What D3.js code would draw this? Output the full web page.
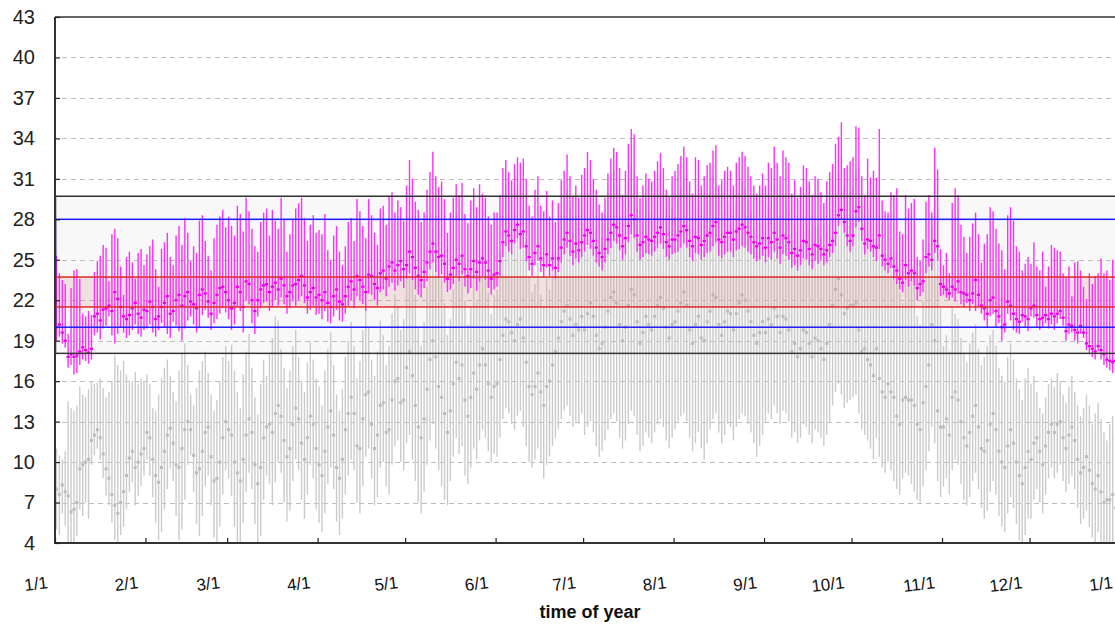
<!DOCTYPE html>
<html>
<head>
<meta charset="utf-8">
<script src="https://cdn.jsdelivr.net/npm/d3@7"></script>
<style>
  body { margin: 0; background: #ffffff; }
  svg { display: block; font-family: "Liberation Sans", Arial, sans-serif; }
</style>
</head>
<body>
<svg id="chart" width="1115" height="626"></svg>
<script>
// ---------------- DATA ----------------
const monthLabels = ["1/1","2/1","3/1","4/1","5/1","6/1","7/1","8/1","9/1","10/1","11/1","12/1","1/1"];
const yTickValues = [4,7,10,13,16,19,22,25,28,31,34,37,40,43];
const xAxisTitle = "time of year";

// comfort bands (lower, upper)
const outerBand = [18.06, 29.71];
const middleBand = [20, 28];
const innerBand = [21.5, 23.72];

// indoor (magenta) daily max / min / mean, one array per month
const indoorMax = [
 [25.3,24.0,23.5,23.2,19.5,22.9,24.2,24.3,23.6,21.0,20.8,21.2,20.9,24.1,24.9,25.3,26.1,25.9,23.4,26.9,27.3,26.6,24.5,22.4,25.2,25.6,24.8,23.6,25.5,25.8,24.6],
 [25.4,26.0,26.5,24.3,23.0,25.8,26.3,27.0,25.2,24.6,26.8,27.5,26.1,28.1,27.0,24.9,26.0,25.5,27.9,28.3,26.4,25.3,24.2,26.6,27.6,28.2,28.7,27.4],
 [28.2,27.5,26.8,29.0,28.4,27.1,29.6,28.6,27.3,26.0,25.6,27.8,28.5,28.8,26.8,28.7,27.9,27.3,29.6,28.0,25.6,26.9,28.0,28.8,29.2,29.6,28.1,26.4,27.6,28.3,27.0],
 [27.2,26.9,28.4,25.7,25.0,26.8,27.5,25.6,24.6,26.0,27.8,28.1,26.4,29.5,28.6,27.5,26.6,29.5,28.3,27.0,26.1,28.8,29.0,27.6,29.7,30.0,28.5,29.4,28.9,27.9],
 [30.5,32.4,31.0,29.3,28.7,27.8,28.5,30.2,31.5,33.0,31.2,30.4,30.8,29.5,27.0,28.5,29.6,30.6,29.8,30.7,28.4,27.7,29.4,30.3,28.9,30.6,29.9,29.6,28.2,27.6,28.5],
 [28.5,29.8,31.8,32.4,31.5,30.9,32.1,32.6,32.2,32.5,31.0,29.0,28.2,30.2,31.2,29.0,28.6,30.1,28.2,29.4,27.8,29.2,30.9,31.6,32.8,31.2,29.7,30.5,29.6,31.3],
 [31.8,33.0,32.4,31.0,30.2,29.1,28.5,29.6,31.4,32.5,33.3,33.0,31.8,29.8,31.6,33.6,34.7,34.3,31.2,29.6,30.5,31.4,31.0,30.8,31.6,32.3,32.9,31.8,30.2,29.7,31.2],
 [31.6,32.1,32.7,33.4,32.6,30.8,29.9,32.6,32.4,30.5,31.2,32.0,32.2,33.1,33.5,30.5,30.9,31.6,31.9,31.6,30.5,32.2,32.6,33.0,32.7,31.9,31.2,30.5,29.9,30.5,31.4],
 [30.5,32.2,31.8,33.4,32.2,31.2,33.1,32.6,32.2,29.9,30.9,29.6,30.4,32.0,31.8,30.8,29.8,31.2,31.0,30.0,29.2,30.8,31.5,32.1,33.6,34.1,35.2,31.8,32.0,32.3],
 [32.6,34.9,34.8,31.2,29.8,32.5,31.1,31.6,31.1,34.7,29.4,28.6,28.5,30.0,29.8,30.3,27.1,26.9,29.8,28.8,29.2,29.5,25.2,24.9,26.5,29.3,29.8,28.5,33.3,31.7,25.8],
 [24.6,25.5,24.0,29.2,30.3,29.8,27.6,26.7,25.5,26.7,27.7,28.5,26.9,24.8,26.2,26.9,28.9,28.6,27.3,26.2,25.7,24.3,28.3,28.9,27.9,26.0,25.6,24.2,24.7,25.2],
 [24.7,26.3,24.5,24.2,25.6,23.0,24.5,26.1,25.9,25.7,25.6,24.0,23.7,24.5,22.3,24.8,24.9,24.2,23.0,22.1,24.0,23.2,23.8,24.0,25.1,24.0,24.2,23.5,25.0,24.4,23.8]
];
const indoorMin = [
 [19.0,19.3,18.8,18.5,17.0,17.2,16.5,16.6,17.2,17.6,17.5,17.3,17.6,19.4,19.6,19.1,19.9,20.1,20.8,19.4,18.8,19.5,20.0,19.6,19.2,19.4,19.8,20.2,19.5,19.3,19.8],
 [19.9,20.2,19.6,19.3,19.8,20.3,20.0,19.5,19.2,20.4,20.1,19.7,19.0,19.9,20.5,20.8,20.2,19.6,20.0,20.9,21.3,20.7,19.8,20.3,20.6,21.0,21.4,21.1],
 [20.6,19.8,20.2,21.5,21.2,19.6,22.0,21.7,20.3,19.5,20.8,21.4,21.8,21.9,21.2,21.5,22.0,21.6,22.2,21.7,21.0,21.4,21.9,21.6,22.0,22.3,21.8,21.0,21.3,21.6,20.9],
 [21.0,20.6,21.2,20.4,20.3,20.8,21.3,20.5,20.4,21.0,21.6,22.0,21.4,22.3,22.0,21.7,21.2,22.5,22.4,22.0,21.6,22.6,22.8,22.3,23.0,23.3,22.7,23.1,23.4,22.9],
 [23.6,24.0,23.5,22.8,22.4,22.2,22.9,23.4,24.3,24.8,24.1,23.7,23.9,23.3,22.6,22.8,23.2,23.8,23.4,23.9,23.0,22.5,22.9,23.6,22.7,23.4,23.8,23.5,22.9,22.4,22.8],
 [23.0,23.8,25.2,26.0,25.6,25.4,26.2,26.6,25.8,25.9,24.9,24.2,23.8,24.6,24.9,24.1,23.7,24.4,23.8,24.2,23.6,24.1,24.8,25.4,25.9,25.3,24.6,25.1,24.8,25.2],
 [25.6,26.1,25.8,25.3,24.8,24.5,24.2,24.8,25.4,25.9,26.4,26.2,25.7,25.0,25.4,26.3,26.9,26.6,25.6,25.0,25.2,25.5,25.4,25.3,25.6,25.9,26.2,25.8,25.2,25.0,25.4],
 [25.5,25.6,25.9,26.2,25.9,25.2,24.9,25.5,25.4,25.0,25.2,25.5,25.6,26.0,26.3,25.3,25.1,25.4,25.6,25.6,25.2,25.7,25.8,26.0,25.9,25.6,25.4,25.1,24.9,25.0,25.3],
 [24.8,25.2,25.0,25.6,25.1,24.7,25.4,25.3,25.0,24.4,24.6,24.2,24.6,25.1,25.0,24.6,24.3,24.9,24.7,25.0,24.6,24.8,25.2,25.5,26.0,27.5,28.0,27.0,26.0,25.6],
 [26.0,27.4,27.8,26.4,25.4,25.8,25.6,25.2,24.9,25.8,24.5,24.2,24.0,24.4,23.6,23.2,22.8,22.6,23.5,23.0,23.4,23.1,22.0,22.3,22.6,24.0,24.5,24.2,25.5,25.0,22.3],
 [22.4,22.2,22.0,22.2,21.9,22.5,21.7,21.5,21.8,21.2,21.7,21.2,21.5,21.0,20.5,20.0,20.8,21.0,20.0,20.3,19.0,19.6,21.0,20.5,19.8,19.6,19.5,20.4,20.0,19.7],
 [20.8,20.7,20.0,19.8,20.0,20.3,19.9,20.2,19.8,20.3,20.6,20.1,19.0,19.5,19.6,19.0,18.8,19.5,19.2,18.3,18.0,17.8,17.6,18.2,17.6,17.2,17.0,16.8,16.6,16.9,17.4]
];
const indoorMean = [
 [20.0,20.2,19.6,19.0,17.8,18.0,17.8,17.9,18.2,18.5,18.3,18.1,18.4,20.8,21.0,20.5,21.3,21.4,21.6,21.2,22.6,22.1,21.5,20.8,20.6,20.9,21.4,21.8,21.0,20.7,21.3],
 [21.2,21.9,21.5,20.6,20.8,21.5,21.8,22.3,21.0,21.2,22.0,22.4,21.6,22.3,22.6,21.9,21.7,21.4,22.4,22.8,22.5,21.9,21.0,21.8,22.4,22.9,23.0,22.6],
 [22.0,21.4,21.8,23.0,22.6,21.5,23.4,23.2,22.0,21.2,22.0,22.8,23.1,23.2,22.6,23.0,23.3,22.8,23.6,23.1,22.3,22.6,23.1,23.2,23.5,23.8,23.1,22.2,22.6,22.9,22.2],
 [22.4,22.0,22.6,21.8,21.5,22.3,22.8,21.9,21.7,22.3,23.0,23.4,22.8,23.8,23.5,23.0,22.6,23.9,23.8,23.2,22.9,24.0,24.2,23.6,24.5,24.8,24.2,24.6,24.9,24.3],
 [24.6,25.6,25.2,24.4,23.8,23.5,24.1,24.8,25.6,26.2,25.6,25.2,25.3,24.7,23.6,23.9,24.4,25.0,24.7,25.3,24.3,23.8,24.3,24.9,24.1,24.8,25.1,24.8,24.2,23.6,23.9],
 [24.0,24.9,26.3,27.1,26.8,26.4,27.2,27.6,26.9,27.1,26.0,25.2,24.7,25.5,26.0,25.1,24.6,25.4,24.6,25.1,24.4,25.1,25.9,26.5,27.0,26.4,25.6,26.2,25.7,26.3],
 [26.8,27.2,27.0,26.4,25.9,25.5,25.2,25.8,26.5,27.0,27.6,27.4,26.8,26.0,26.6,27.5,28.3,28.0,26.8,26.1,26.3,26.7,26.5,26.4,26.7,27.0,27.4,26.9,26.3,26.0,26.5],
 [26.5,26.8,27.1,27.5,27.2,26.4,26.0,26.7,26.6,26.1,26.4,26.8,27.0,27.5,27.8,26.5,26.3,26.7,27.0,27.0,26.5,27.1,27.3,27.6,27.4,27.0,26.7,26.3,26.0,26.2,26.6],
 [25.9,26.6,26.3,27.0,26.5,25.9,26.8,26.6,26.3,25.5,25.8,25.3,25.7,26.4,26.3,25.8,25.4,26.1,26.0,25.8,25.4,25.7,26.1,26.4,27.0,28.3,28.7,27.8,26.8,26.4],
 [26.8,28.6,28.9,27.3,26.2,26.5,26.4,26.0,25.9,26.8,25.3,25.0,24.7,25.1,24.5,24.2,23.6,23.3,24.6,24.0,24.2,24.0,22.9,23.2,23.4,25.2,25.4,25.0,26.4,26.0,23.2],
 [23.0,22.8,22.5,23.0,22.8,23.4,22.6,22.5,22.4,22.0,22.5,23.5,22.4,21.6,21.4,21.0,22.0,22.2,21.2,20.8,20.0,20.2,21.9,21.6,21.0,20.6,20.4,20.9,20.8,20.6],
 [21.4,21.6,20.9,20.6,20.7,20.9,20.6,21.0,20.8,21.0,21.2,20.7,19.7,20.2,20.1,19.8,19.6,20.1,19.6,18.8,18.6,18.4,18.2,18.6,18.3,18.0,17.6,17.5,17.4,17.5,18.0]
];

// outdoor (grey) daily max / min / mean, one array per month
const outdoorMax = [
 [11.0,10.5,10.2,10.8,14.5,14.0,13.8,14.2,15.6,15.0,14.8,15.4,16.0,15.8,15.9,16.2,15.5,14.8,15.2,16.0,17.9,17.2,16.8,17.5,16.5,15.9,16.0,16.7,15.8,16.2,16.0],
 [16.5,15.8,14.0,13.8,15.0,16.2,17.0,17.6,16.4,15.2,14.5,16.8,18.0,18.8,17.2,15.0,14.2,15.5,16.8,17.5,18.2,16.6,15.0,13.8,14.6,16.0,17.8,18.6],
 [17.5,18.7,16.8,15.2,14.0,16.5,18.2,19.5,17.0,14.8,13.5,15.8,17.6,16.4,18.0,19.2,20.8,20.5,18.4,17.0,15.5,16.8,18.6,19.8,17.8,16.0,15.2,17.4,18.9,17.6,16.2],
 [15.6,14.2,16.8,18.4,19.6,17.2,15.0,13.8,15.4,17.8,19.0,20.4,18.6,16.2,17.5,19.8,21.2,20.0,17.6,16.4,18.2,20.5,19.4,17.2,18.6,21.0,22.4,21.6,19.8,20.6],
 [24.5,26.8,25.2,22.4,20.0,18.6,20.4,23.0,25.6,27.4,26.2,24.0,23.6,21.8,19.4,20.6,22.8,24.6,23.4,25.2,22.0,20.2,21.6,23.8,22.0,24.4,25.8,24.2,22.6,21.0,22.4],
 [22.8,25.6,28.2,30.5,30.9,29.4,28.6,30.2,30.8,29.0,26.4,23.8,22.6,23.2,24.8,22.4,21.6,23.6,22.8,24.2,25.6,26.8,28.4,29.6,30.2,28.8,27.0,28.2,27.4,29.0],
 [27.6,29.4,30.6,29.0,27.2,25.8,26.6,28.4,30.2,31.2,31.6,30.4,28.2,26.8,28.6,30.8,32.0,31.6,28.8,26.4,27.8,29.6,28.6,28.0,29.8,30.6,31.4,30.2,28.4,27.2,28.8],
 [28.2,29.6,30.4,31.0,29.8,27.4,26.2,28.8,29.4,27.6,28.4,29.8,30.2,31.2,30.6,27.8,27.0,28.6,29.4,29.0,27.6,29.2,30.0,30.8,30.4,29.4,28.6,27.4,26.8,27.6,28.4],
 [27.8,29.2,28.6,30.4,29.6,28.2,29.8,29.4,28.6,26.4,27.2,26.0,26.8,28.4,28.0,27.2,26.2,27.6,27.4,26.8,26.0,27.2,28.2,29.4,30.6,31.6,32.6,30.4,29.8,30.0],
 [30.4,31.6,31.8,29.2,27.4,28.8,27.6,27.0,26.4,29.6,25.8,24.6,24.2,25.4,25.0,25.6,22.6,21.8,24.4,23.6,23.8,24.6,20.8,20.2,22.0,24.6,26.2,27.4,31.0,29.0,21.4],
 [18.6,19.4,18.2,21.4,21.0,20.6,19.2,18.0,17.4,18.8,19.6,20.2,18.4,17.2,17.8,18.6,19.4,19.8,18.6,17.0,16.4,16.0,17.8,18.8,17.6,16.2,15.4,14.6,16.2,17.0],
 [15.8,16.4,15.2,14.0,13.6,14.8,15.8,16.2,15.6,16.6,16.0,15.0,14.4,15.6,16.4,15.2,14.2,13.4,14.0,15.0,14.2,12.8,13.6,14.4,13.2,12.2,11.6,12.8,13.4,12.0,11.2]
];
const outdoorMin = [
 [5.0,4.6,6.2,5.3,3.5,3.2,3.8,4.5,6.5,6.0,7.0,5.8,9.8,10.5,11.0,10.2,8.8,7.5,6.8,5.5,4.2,3.8,4.6,5.2,6.5,7.8,8.5,6.8,7.5,8.2,9.0],
 [10.2,9.0,7.4,5.5,4.2,4.8,6.5,8.0,9.5,8.6,6.0,4.2,5.0,7.2,9.8,10.5,7.8,5.4,4.5,6.0,8.2,9.0,6.8,4.4,3.8,5.2,7.6,9.4],
 [8.8,7.5,5.2,4.0,3.8,5.5,7.8,9.2,8.0,5.4,3.6,4.5,7.2,9.0,8.4,6.8,8.5,10.0,9.2,7.0,5.6,6.4,8.6,10.2,9.4,7.2,5.8,7.6,9.8,8.8,6.5],
 [5.5,4.8,6.2,8.4,9.6,8.0,5.6,4.6,5.8,7.6,9.0,10.2,9.4,7.0,6.2,8.2,10.4,11.0,8.8,6.8,7.4,9.6,10.0,8.2,7.6,9.8,11.2,11.6,10.0,9.4],
 [11.4,12.0,10.2,8.6,7.0,6.2,7.8,9.8,11.6,12.8,11.0,9.4,8.2,7.2,6.8,8.6,10.4,11.8,10.6,11.2,9.0,8.4,9.6,11.0,10.2,11.6,12.4,11.8,10.8,10.0,10.6],
 [10.4,11.8,13.2,14.0,13.6,12.8,12.4,13.4,13.8,12.6,11.2,10.0,9.6,10.2,11.0,10.0,8.8,9.8,10.4,11.2,11.8,12.4,13.2,13.8,14.2,13.4,12.6,13.0,12.8,13.6],
 [12.0,12.6,13.0,12.2,11.2,10.4,10.8,11.6,12.4,13.2,13.6,13.0,11.8,11.0,11.6,12.8,13.8,13.4,12.0,10.8,11.2,12.2,11.8,11.4,12.2,12.8,13.2,12.6,11.6,11.0,11.8],
 [12.4,13.0,13.4,13.6,13.0,11.8,10.8,11.4,12.2,11.0,10.2,11.4,12.4,13.2,13.6,12.2,11.4,12.0,12.8,12.6,11.6,12.6,13.2,13.6,13.4,12.8,12.2,11.4,10.4,11.2,12.0],
 [13.0,13.6,13.2,14.2,13.6,12.8,13.8,13.6,13.0,11.8,12.2,11.4,11.8,12.8,12.6,12.0,11.4,12.4,12.2,11.8,11.2,12.0,13.0,14.2,15.2,15.8,15.0,14.0,14.4,14.6],
 [14.8,15.0,13.6,12.4,12.0,11.6,11.0,10.2,11.8,10.4,9.6,9.2,10.0,9.4,8.6,8.0,7.6,8.8,9.2,9.0,8.4,7.8,7.2,7.0,8.2,9.4,10.8,12.6,11.4,8.6,7.4],
 [8.2,8.8,7.6,9.4,10.2,9.8,8.4,7.2,6.8,7.4,8.6,9.2,8.0,6.6,5.8,6.4,7.8,8.6,7.6,6.0,5.2,4.8,6.2,7.4,6.6,5.4,4.2,3.6,4.6,5.8],
 [5.8,7.2,8.0,7.0,6.2,7.6,8.8,9.6,8.8,9.2,9.8,8.6,7.8,8.4,9.0,8.0,6.6,5.4,5.8,6.4,5.2,4.4,3.6,4.8,3.4,2.8,3.2,2.6,3.0,2.4,3.2]
];
const outdoorMean = [
 [8.0,7.6,8.3,7.8,7.5,6.3,6.5,7.0,9.5,9.8,10.0,10.2,11.6,12.0,12.4,11.8,10.6,9.5,8.8,7.6,6.8,6.2,7.0,7.8,9.0,10.3,10.8,9.6,10.0,10.6,11.0],
 [12.2,11.8,10.2,9.0,8.5,9.6,10.8,12.0,12.5,11.4,9.8,9.6,11.0,12.4,13.0,12.4,10.5,9.2,9.5,10.8,12.2,12.6,10.4,8.6,8.8,10.0,11.8,13.0],
 [12.4,12.0,10.0,9.2,8.6,10.2,12.0,13.2,12.2,9.8,8.4,9.6,11.8,12.6,12.8,12.2,13.6,14.2,13.4,11.6,10.4,11.0,12.8,14.0,13.2,11.4,10.2,11.8,13.4,12.8,11.0],
 [9.8,9.0,10.8,12.6,13.8,12.0,9.6,8.8,10.2,12.4,13.6,14.8,13.6,11.2,11.0,13.2,15.0,15.2,12.8,11.0,12.0,14.2,14.4,12.2,12.4,14.6,16.0,16.2,14.4,14.6],
 [17.0,18.2,16.4,14.2,12.6,11.8,13.2,15.4,17.6,19.0,17.8,15.6,14.8,13.6,12.2,13.8,15.8,17.4,16.2,17.2,14.6,13.4,14.8,16.6,15.4,17.2,18.4,17.2,15.8,14.8,15.6],
 [15.8,17.6,19.4,20.6,20.4,19.6,19.0,20.2,20.6,19.2,17.4,15.6,15.0,15.6,16.6,15.2,14.2,15.6,16.0,17.2,18.2,19.2,20.4,21.2,21.6,20.6,19.4,20.2,19.8,20.8],
 [19.8,21.0,21.8,20.8,19.4,18.4,18.8,20.0,21.2,22.2,22.6,21.8,20.2,19.0,20.0,21.6,22.8,22.4,20.4,18.8,19.6,20.8,20.2,19.8,20.8,21.6,22.2,21.4,20.0,19.2,20.2],
 [20.4,21.2,21.8,22.6,21.6,19.8,18.8,20.2,20.8,19.2,19.0,20.4,21.2,22.4,22.2,20.2,19.4,20.4,21.2,21.0,19.8,21.0,21.8,22.4,22.0,21.2,20.4,19.4,18.8,19.6,20.4],
 [19.6,20.6,20.2,21.4,20.8,19.6,20.8,20.6,19.8,18.2,18.8,17.8,18.4,19.8,19.6,18.8,17.8,19.2,19.0,18.4,17.6,18.8,20.2,21.6,22.8,23.6,22.4,21.0,21.4,21.6],
 [21.6,21.8,19.8,18.2,18.4,17.6,17.2,16.4,18.4,16.2,15.2,14.8,15.8,15.2,14.8,13.4,12.8,14.6,14.8,14.6,14.6,14.2,12.8,12.4,14.4,15.6,17.2,20.2,19.0,13.8,12.6],
 [12.6,13.2,12.0,14.8,15.2,14.6,13.0,11.8,11.2,12.2,13.4,14.2,12.6,11.0,10.8,11.6,12.8,13.6,12.4,10.8,10.0,9.6,11.2,12.4,11.4,10.0,9.0,8.4,9.6,10.8],
 [10.2,11.4,11.8,10.8,9.8,11.2,12.2,12.8,12.2,12.8,13.0,11.8,11.0,12.0,12.6,11.6,10.2,9.2,9.6,10.4,9.4,8.4,8.0,9.0,7.8,7.0,7.2,7.2,7.6,6.6,7.0]
];

// ---------------- BUILD ----------------
const YEAR = 2009;
function buildSeries(maxArr, minArr, meanArr) {
  const out = [];
  for (let m = 0; m < 12; m++) {
    for (let i = 0; i < maxArr[m].length; i++) {
      out.push({ date: new Date(YEAR, m, i + 1, 12), max: maxArr[m][i], min: minArr[m][i], mean: meanArr[m][i] });
    }
  }
  return out;
}
const indoor = buildSeries(indoorMax, indoorMin, indoorMean);
const outdoor = buildSeries(outdoorMax, outdoorMin, outdoorMean);
const monthDates = monthLabels.map((_, i) => new Date(YEAR, i, 1));

const L = 55, R = 1120, T = 17, B = 543;
const x = d3.scaleTime().domain([new Date(YEAR, 0, 1), new Date(YEAR + 1, 0, 1)]).range([L, R]);
const y = d3.scaleLinear().domain([4, 43]).range([B, T]);

const svg = d3.select("#chart");
svg.append("defs").append("clipPath").attr("id", "plotClip")
  .append("rect").attr("x", L).attr("y", T).attr("width", 1115 - L).attr("height", B - T);

const plot = svg.append("g").attr("clip-path", "url(#plotClip)");

// outer band fill
plot.append("rect")
  .attr("x", L).attr("width", R - L)
  .attr("y", y(outerBand[1])).attr("height", y(outerBand[0]) - y(outerBand[1]))
  .attr("fill", "#f8f8f8");

// dashed grid lines
plot.append("g").selectAll("line")
  .data(yTickValues.filter(v => v !== 4 && v !== 43))
  .join("line")
  .attr("x1", L + 7).attr("x2", 1115)
  .attr("y1", d => Math.round(y(d)) + 0.5).attr("y2", d => Math.round(y(d)) + 0.5)
  .attr("stroke", "#bdbdbd").attr("stroke-width", 1).attr("stroke-dasharray", "5,4");

// outdoor bars
const xc = d => x(d.date);
plot.append("g").selectAll("line")
  .data(outdoor).join("line")
  .attr("x1", xc).attr("x2", xc)
  .attr("y1", d => y(d.min)).attr("y2", d => y(d.max))
  .attr("stroke", "#cbcbcb").attr("stroke-width", 1.4);
plot.append("g").selectAll("rect")
  .data(outdoor).join("rect")
  .attr("x", d => xc(d) - 1.5).attr("y", d => y(d.mean) - 1.5)
  .attr("width", 3).attr("height", 3)
  .attr("fill", "#bcbcbc");

// inner (red) band fill, translucent
plot.append("rect")
  .attr("x", L).attr("width", R - L)
  .attr("y", y(innerBand[1])).attr("height", y(innerBand[0]) - y(innerBand[1]))
  .attr("fill", "rgba(215,140,140,0.22)");

// indoor bars
plot.append("g").selectAll("line")
  .data(indoor).join("line")
  .attr("x1", xc).attr("x2", xc)
  .attr("y1", d => y(d.min)).attr("y2", d => y(d.max))
  .attr("stroke", "#ff2eff").attr("stroke-width", 1.4);
plot.append("g").selectAll("rect")
  .data(indoor).join("rect")
  .attr("x", d => xc(d) - 1.6).attr("y", d => y(d.mean) - 1.1)
  .attr("width", 3.2).attr("height", 2.2)
  .attr("fill", "#e800e8");

// band outlines
function bandBox(band, color) {
  plot.append("rect")
    .attr("x", L + 0.5).attr("width", R - L + 5)
    .attr("y", y(band[1])).attr("height", y(band[0]) - y(band[1]))
    .attr("fill", "none").attr("stroke", color).attr("stroke-width", 1.5);
}
bandBox(outerBand, "#333333");
bandBox(middleBand, "#1c1cff");
bandBox(innerBand, "#e02828");

// axes
const axisG = svg.append("g");
axisG.append("line").attr("x1", L).attr("x2", 1115).attr("y1", T).attr("y2", T)
  .attr("stroke", "#333").attr("stroke-width", 1.5);
axisG.append("line").attr("x1", L).attr("x2", L).attr("y1", T).attr("y2", B + 1)
  .attr("stroke", "#333").attr("stroke-width", 2);
axisG.append("line").attr("x1", L).attr("x2", 1115).attr("y1", B).attr("y2", B)
  .attr("stroke", "#333").attr("stroke-width", 2);

// y axis ticks + labels
const yAxis = d3.axisLeft(y).tickValues(yTickValues).tickSizeInner(-5).tickSizeOuter(0).tickPadding(20).tickFormat(d3.format("d"));
const yg = svg.append("g").attr("transform", `translate(${L},0)`).call(yAxis);
yg.select(".domain").remove();
yg.selectAll(".tick line").attr("stroke", "#222").attr("stroke-width", 1.2);
yg.selectAll(".tick text").attr("font-size", 20).attr("fill", "#222")
  .attr("font-family", "'Liberation Sans', Arial, sans-serif");

// x axis ticks + labels
const xAxis = d3.axisBottom(x).tickValues(monthDates).tickSizeInner(-5).tickSizeOuter(0).tickFormat((d, i) => monthLabels[i]);
const xg = svg.append("g").attr("transform", `translate(0,${B})`).call(xAxis);
xg.select(".domain").remove();
xg.selectAll(".tick line").attr("stroke", "#222").attr("stroke-width", 1.2);
xg.selectAll(".tick text")
  .attr("font-size", 17).attr("fill", "#111")
  .attr("font-family", "'Liberation Sans', Arial, sans-serif")
  .attr("text-anchor", "end")
  .attr("x", 0).attr("y", 0).attr("dy", 0)
  .attr("transform", "translate(-7,45) rotate(-7)");

// x axis title
svg.append("text")
  .attr("x", 590).attr("y", 618)
  .attr("text-anchor", "middle")
  .attr("font-size", 18).attr("font-weight", "bold").attr("fill", "#111")
  .attr("font-family", "'Liberation Sans', Arial, sans-serif")
  .text(xAxisTitle);
</script>
</body>
</html>
